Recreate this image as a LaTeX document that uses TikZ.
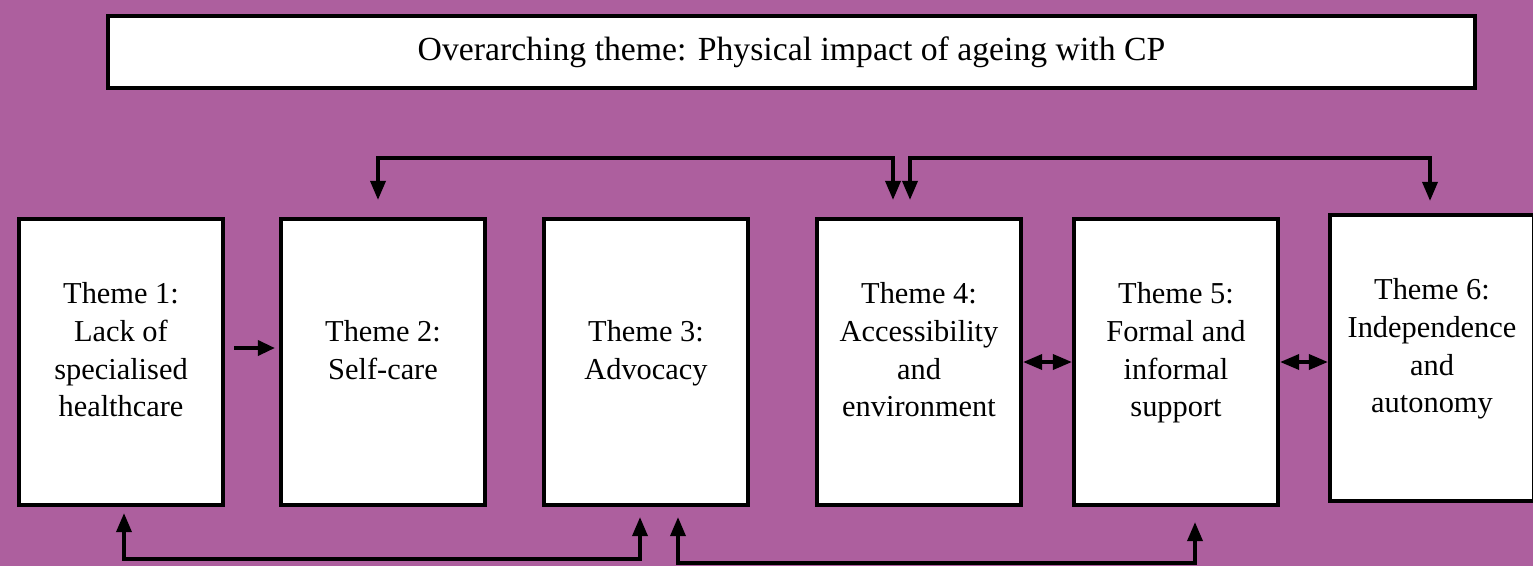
\documentclass[tikz,border=0pt]{standalone}
\usepackage{fontspec}
\setmainfont{Liberation Serif}
\usetikzlibrary{arrows.meta}
\definecolor{bgpurple}{RGB}{173,95,158}

\begin{document}
\begin{tikzpicture}[x=0.02cm,y=-0.02cm,
    theme/.style={draw=black, line width=2.4pt, fill=white, align=center, minimum width=4.08cm, minimum height=5.72cm, inner sep=0pt, font=\fontsize{17.3}{21.6}\selectfont, text depth=0.5cm},
    link/.style={black, line width=2pt, {Triangle[length=0.38cm,width=0.3cm]}-{Triangle[length=0.38cm,width=0.3cm]}},
    onelink/.style={black, line width=2pt, -{Triangle[length=0.34cm,width=0.3cm]}}]
    \useasboundingbox (0,0) rectangle (1533,566);
    \fill[bgpurple] (0,0) rectangle (1533,566);

    \node[draw=black, line width=2.4pt, fill=white, minimum width=27.34cm, minimum height=1.44cm, font=\fontsize{19.2}{23}\selectfont] (over) at (791.5,52) {Overarching theme: Physical impact of ageing with CP};

    \node[theme] (t1) at (121,362) {Theme 1:\\Lack of\\specialised\\healthcare};
    \node[theme] (t2) at (383,362) {Theme 2:\\Self-care};
    \node[theme] (t3) at (646,362) {Theme 3:\\Advocacy};
    \node[theme] (t4) at (919,362) {Theme 4:\\Accessibility\\and\\environment};
    \node[theme] (t5) at (1176,362) {Theme 5:\\Formal and\\informal\\support};
    \node[theme] (t6) at (1432,358) {Theme 6:\\Independence\\and\\autonomy};

    % side arrows
    \draw[onelink, shorten <=0.18cm, shorten >=0.08cm] ([yshift=0.28cm]t1.east) -- ([yshift=0.28cm]t2.west);
    \draw[link] (t4.east) -- (t5.west);
    \draw[link] (t5.east) -- (t5.east -| t6.west);

    % top arrows
    \draw[link, shorten <=0.34cm, shorten >=0.34cm] ([xshift=-0.1cm]t2.north) -- ++(0,-59) -| ([xshift=-0.52cm]t4.north);
    \draw[link, shorten <=0.34cm, shorten >=0.24cm] ([xshift=-0.18cm]t4.north) -- ++(0,-59) -| ([xshift=-0.04cm]t6.north);

    % bottom arrows
    \draw[link, shorten <=0.12cm, shorten >=0.2cm] ([xshift=0.06cm]t1.south) -- ++(0,52) -| ([xshift=-0.12cm]t3.south);
    \draw[link, shorten <=0.2cm, shorten >=0.3cm] ([xshift=0.64cm]t3.south) -- ++(0,56) -| ([xshift=0.38cm]t5.south);
\end{tikzpicture}
\end{document}
